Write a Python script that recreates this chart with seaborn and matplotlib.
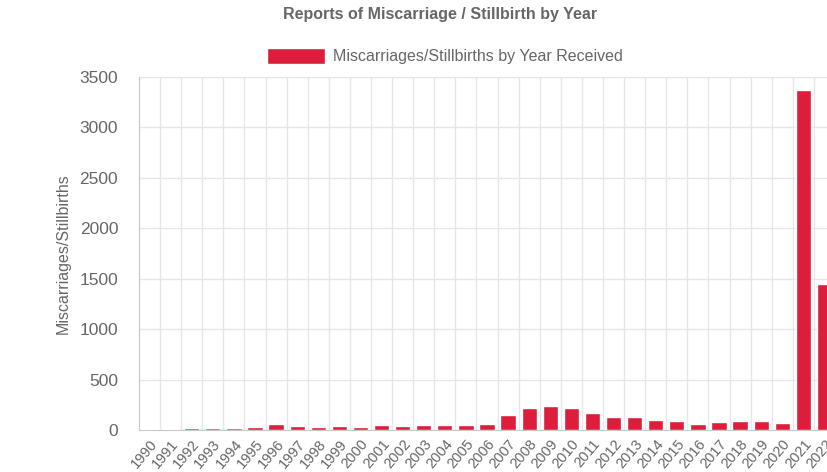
import matplotlib
matplotlib.use("Agg")
import matplotlib.pyplot as plt
import seaborn as sns
import numpy as np
import pandas as pd

# values
years = [str(y) for y in range(1990, 2023)]
counts = [10, 10, 23, 17, 17, 26, 56, 43, 33, 40, 26, 46, 40, 53, 53, 46,
          63, 145, 218, 238, 215, 172, 132, 130, 99, 89, 63, 76, 86, 89, 69,
          3375, 1446]

title = 'Reports of Miscarriage / Stillbirth by Year'
series_name = 'Miscarriages/Stillbirths by Year Received'
y_label = 'Miscarriages/Stillbirths'

df = pd.DataFrame({'year': years, 'count': counts})

sns.set_style("white")
plt.rcParams['font.family'] = ['Liberation Sans', 'DejaVu Sans']

text_grey = '#666666'
grid_grey = '#e6e6e6'
bar_red = '#dc1e3c'

fig = plt.figure(figsize=(8.27, 4.72), dpi=100)
# the plot area runs past the right edge of the canvas, as in the original
ax = fig.add_axes([139 / 827, 42 / 472, 696 / 827, 353 / 472])

sns.barplot(data=df, x='year', y='count', color=bar_red, saturation=1,
            width=0.72, label=series_name, ax=ax, zorder=3)

ax.set_ylim(0, 3500)
ax.set_xlim(-0.5, len(years) - 0.5)
ax.set_yticks(np.arange(0, 3501, 500))
ax.tick_params(axis='y', labelsize=12.5, colors=text_grey, length=13,
               color=grid_grey, pad=2)
ax.set_xticks(range(len(years)))
ax.set_xticklabels(years, rotation=50, ha='right', rotation_mode='anchor',
                   fontsize=10.5, color=text_grey)
ax.tick_params(axis='x', which='major', length=0, pad=5)
ax.set_xticks(np.arange(-0.5, len(years), 1), minor=True)
ax.tick_params(axis='x', which='minor', length=5, color=grid_grey)

ax.grid(axis='y', color=grid_grey, linewidth=1, zorder=0)
ax.grid(axis='x', which='minor', color=grid_grey, linewidth=1, zorder=0)
ax.grid(axis='x', which='major', visible=False)

for s in ['top', 'right']:
    ax.spines[s].set_visible(False)
ax.spines['left'].set_color('#c8c8c8')
ax.spines['bottom'].set_color('#c8c8c8')

ax.set_xlabel('')
ax.set_ylabel(y_label, fontsize=11.5, color=text_grey, labelpad=6)

ax.legend(loc='center', bbox_to_anchor=(445 / 827, 1 - 56 / 472),
          bbox_transform=fig.transFigure, frameon=False, fontsize=11.5,
          handlelength=3.6, handleheight=1.2, handletextpad=0.5,
          labelcolor=text_grey)

fig.text(440 / 827, 1 - 15 / 472, title, ha='center', va='center',
         fontsize=11.5, fontweight='bold', color=text_grey)

fig.savefig('out.png', dpi=100)
